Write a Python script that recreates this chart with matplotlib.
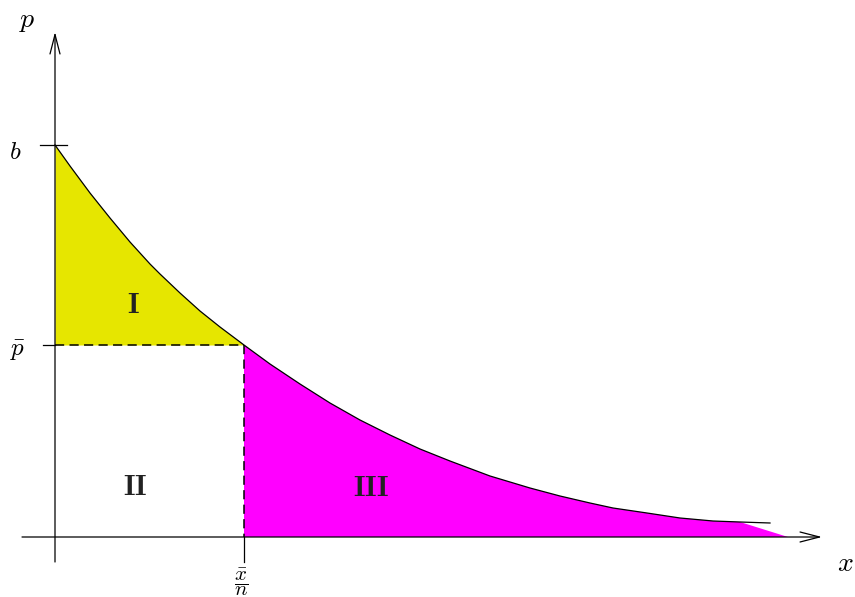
import numpy as np
import matplotlib.pyplot as plt

plt.rcParams['mathtext.fontset'] = 'cm'

# demand curve (x = quantity, p = price)
curve_x = [0, 15, 35, 55, 75, 95, 105, 125, 145, 165, 189, 215, 245, 275, 305,
           335, 365, 395, 435, 475, 505, 535, 558, 592, 625, 658, 685, 715]
curve_p = [392, 371, 344, 319, 295, 273, 263, 244, 226, 210, 192, 173, 153, 134, 117,
           102, 88, 76, 61, 49, 41, 34, 29, 24, 19, 16, 15, 14]

b_val = 392
p_bar = 192
x_bar_n = 189
fill_end = 733  # where the shaded region III meets the x axis

region_labels = ['I', 'II', 'III']
region_pos = [(78, 232), (80, 50), (316, 49)]

fig = plt.figure(figsize=(8.55, 5.97), dpi=100)
ax = fig.add_axes([0, 0, 1, 1])
ax.set_xlim(-55, 800)
ax.set_ylim(-60, 537)
ax.axis('off')

cx = np.array(curve_x)
cp = np.array(curve_p)

# region I: between the curve and p bar
left = cx <= x_bar_n
ax.fill_between(cx[left], cp[left], p_bar, color='#e6e600', lw=0)

# region III: under the curve right of x bar / n
right = (cx >= x_bar_n) & (cx <= 685)
poly_x = list(cx[right]) + [fill_end, x_bar_n]
poly_p = list(cp[right]) + [0, 0]
ax.fill(poly_x, poly_p, color='#ff00ff', lw=0)

ax.plot(cx, cp, color='black', lw=0.9, solid_joinstyle='round')

# axes with arrows
arr = dict(arrowstyle='->,head_length=0.7,head_width=0.18', lw=0.9,
           color='black', mutation_scale=20, shrinkA=0, shrinkB=0)
ax.annotate('', xy=(767, 0), xytext=(-33, 0), arrowprops=arr)
ax.annotate('', xy=(0, 505), xytext=(0, -25), arrowprops=arr)

# tick at b
ax.plot([-15, 12], [b_val, b_val], color='black', lw=0.9)
# dashed guides
ax.plot([-12, 0], [p_bar, p_bar], color='black', lw=0.9)
ax.plot([0, x_bar_n], [p_bar, p_bar], color='black', lw=1.1, ls=(0, (6, 3.5)))
ax.plot([x_bar_n, x_bar_n], [p_bar, 0], color='black', lw=1.1, ls=(0, (6, 3.5)))
ax.plot([x_bar_n, x_bar_n], [0, -25], color='black', lw=0.9)

# labels
ax.text(-28, 517, '$p$', fontsize=20, ha='center', va='center')
ax.text(-40, 385, '$b$', fontsize=18, ha='center', va='center')
ax.text(-37, 187, r'$\bar{p}$', fontsize=18, ha='center', va='center')
ax.text(x_bar_n - 3, -45, r'$\dfrac{\bar{x}}{n}$', fontsize=15, ha='center', va='center')
ax.text(790, -26, '$x$', fontsize=20, ha='center', va='center')

for lab, (lx, ly) in zip(region_labels, region_pos):
    ax.text(lx, ly, r'$\mathbf{%s}$' % lab, fontsize=21, color='#222222',
            ha='center', va='center')

fig.savefig('out.png', dpi=100)
